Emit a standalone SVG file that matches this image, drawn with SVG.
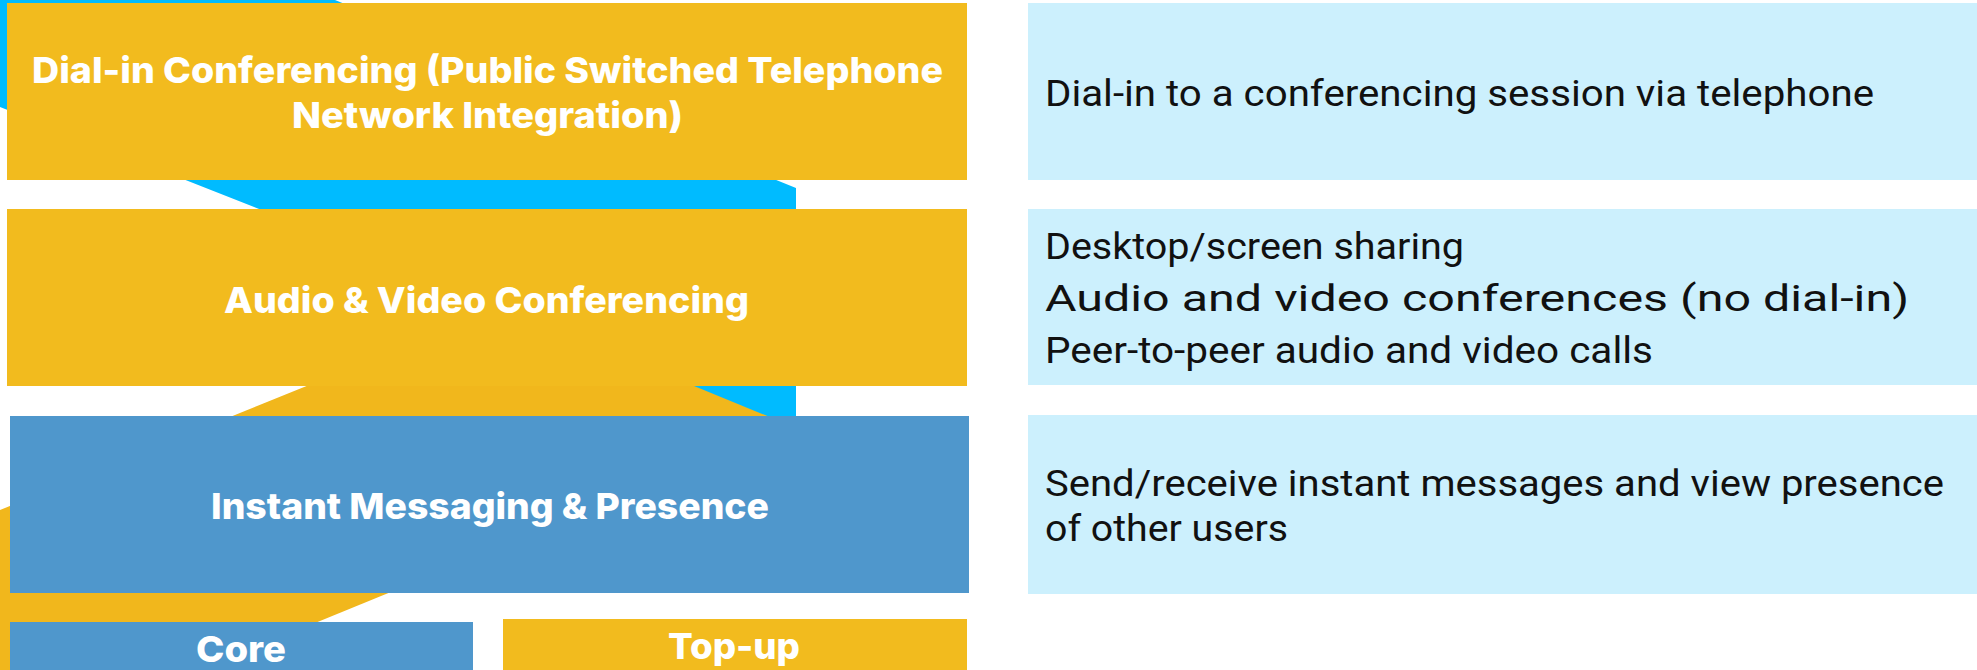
<svg xmlns="http://www.w3.org/2000/svg" width="1977" height="670" viewBox="0 0 1977 670">
<style>
.yel{fill:#F2BB1E}
.blu{fill:#4F97CC}
.lit{fill:#CCF0FD}
.title{font-family:Inter,Roboto,"Liberation Sans",sans-serif;font-weight:800;font-size:36px;fill:#FFFFFF;text-anchor:middle}
.desc{font-family:Roboto,"Liberation Sans",sans-serif;font-weight:400;font-size:36px;fill:#111111}
</style>
<rect width="1977" height="670" fill="#FFFFFF"/>
<g id="background">
<polygon points="0,0 335,0 796,188 796,430 320,430 320,233 0,107" fill="#00BBFF"/>
<polygon points="-10,514 502,307 794,427 -10,756" fill="#F1B71C"/>
</g>
<g id="connectors"></g>
<g id="node-dialin">
<rect class="yel" x="7" y="3" width="960" height="177"/>
<text class="title" x="487.5" y="83" textLength="911" lengthAdjust="spacingAndGlyphs">Dial-in Conferencing (Public Switched Telephone</text>
<text class="title" x="487.5" y="128" textLength="391" lengthAdjust="spacingAndGlyphs">Network Integration)</text>
</g>
<g id="node-av">
<rect class="yel" x="7" y="209" width="960" height="177"/>
<text class="title" x="486.5" y="313" textLength="525" lengthAdjust="spacingAndGlyphs">Audio &amp; Video Conferencing</text>
</g>
<g id="node-im">
<rect class="blu" x="10" y="416" width="959" height="177"/>
<text class="title" x="490" y="519" textLength="558" lengthAdjust="spacingAndGlyphs">Instant Messaging &amp; Presence</text>
</g>
<g id="node-core">
<rect class="blu" x="10" y="622" width="463" height="60"/>
<text class="title" x="241" y="662" textLength="90" lengthAdjust="spacingAndGlyphs">Core</text>
</g>
<g id="node-topup">
<rect class="yel" x="503" y="619" width="464" height="60"/>
<text class="title" x="734" y="659" textLength="132" lengthAdjust="spacingAndGlyphs">Top-up</text>
</g>
<g id="desc-dialin">
<rect class="lit" x="1028" y="3" width="949" height="177"/>
<text class="desc" x="1045" y="106" textLength="829" lengthAdjust="spacingAndGlyphs">Dial-in to a conferencing session via telephone</text>
</g>
<g id="desc-av">
<rect class="lit" x="1028" y="209" width="949" height="176"/>
<text class="desc" x="1045" y="259" textLength="419" lengthAdjust="spacingAndGlyphs">Desktop/screen sharing</text>
<text class="desc" x="1045" y="311" textLength="864" lengthAdjust="spacingAndGlyphs">Audio and video conferences (no dial-in)</text>
<text class="desc" x="1045" y="363" textLength="608" lengthAdjust="spacingAndGlyphs">Peer-to-peer audio and video calls</text>
</g>
<g id="desc-im">
<rect class="lit" x="1028" y="415" width="949" height="179"/>
<text class="desc" x="1045" y="496" textLength="899" lengthAdjust="spacingAndGlyphs">Send/receive instant messages and view presence</text>
<text class="desc" x="1045" y="541" textLength="243" lengthAdjust="spacingAndGlyphs">of other users</text>
</g>
</svg>
